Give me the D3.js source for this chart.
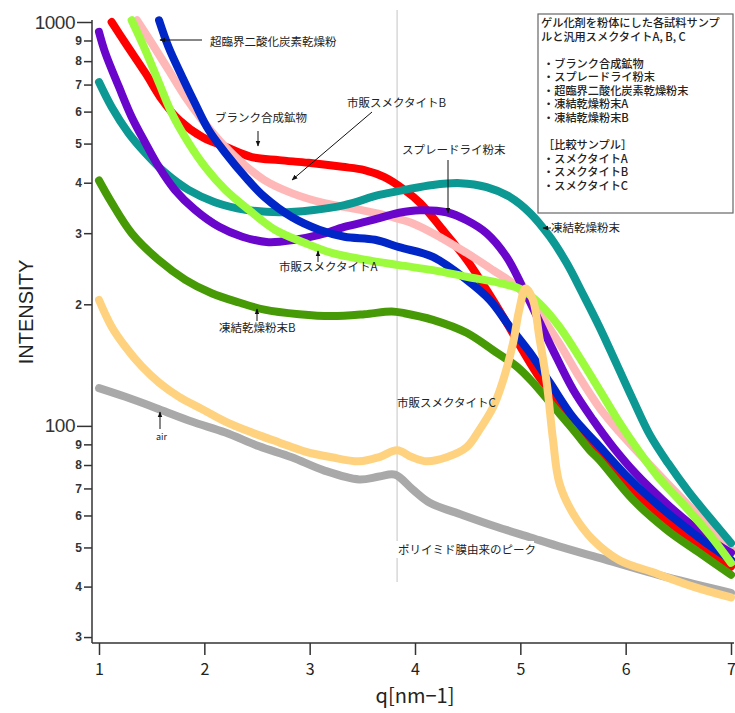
<!DOCTYPE html>
<html>
<head>
<meta charset="utf-8">
<script src="https://cdn.jsdelivr.net/npm/d3@7"></script>
<style>
  body { margin: 0; background: #fff; }
  svg { display: block; }
  .ann { font-family: "Noto Sans CJK JP", sans-serif; font-size: 11.5px; fill: #222; }
</style>
</head>
<body>
<script>
// [q (nm^-1), intensity]
const blankMineral = [[1.12, 1000], [1.25, 887], [1.44, 748], [1.6, 641], [1.76, 572], [1.98, 519], [2.2, 491], [2.45, 463], [2.71, 455], [2.99, 448], [3.31, 438], [3.52, 430], [3.71, 413], [3.9, 384], [4.05, 356], [4.24, 311], [4.49, 258], [4.68, 217], [4.87, 180], [5.02, 154], [5.18, 132], [5.35, 116], [5.5, 100.6], [5.72, 86.2], [6.0, 72.3], [6.25, 62.7], [6.5, 55.3], [6.75, 49.3], [7.0, 44.8]];
const sprayDried = [[1.0, 945], [1.06, 838], [1.19, 690], [1.31, 582], [1.44, 502], [1.57, 437], [1.72, 384], [1.91, 343], [2.14, 311], [2.36, 294], [2.61, 285], [2.86, 289], [3.09, 297], [3.33, 311], [3.59, 323], [3.85, 337], [4.05, 342], [4.3, 338], [4.49, 323], [4.68, 300], [4.87, 262], [5.02, 221], [5.16, 186], [5.31, 154], [5.5, 123], [5.69, 103.5], [5.88, 88.7], [6.1, 76], [6.35, 65.6], [6.6, 57.5], [6.85, 51.3], [7.0, 48.5]];
const supercritical = [[1.57, 1010], [1.66, 867], [1.79, 731], [1.91, 630], [2.04, 541], [2.2, 474], [2.39, 413], [2.57, 369], [2.83, 329], [3.09, 306], [3.33, 294], [3.62, 289], [3.85, 277], [4.17, 262], [4.49, 230], [4.71, 205], [4.9, 176], [5.09, 152], [5.28, 128], [5.5, 105], [5.72, 90.8], [6.0, 75.6], [6.25, 65.6], [6.5, 57.9], [6.75, 51.6], [7.0, 46.6]];
const freezeDriedA = [[1.0, 710], [1.12, 616], [1.28, 531], [1.44, 474], [1.63, 423], [1.85, 384], [2.1, 358], [2.39, 343], [2.71, 338], [3.02, 342], [3.33, 352], [3.66, 373], [3.9, 384], [4.17, 395], [4.43, 399], [4.68, 390], [4.9, 369], [5.09, 337], [5.28, 294], [5.44, 253], [5.59, 213], [5.75, 176], [5.91, 143], [6.07, 116], [6.23, 95], [6.4, 81], [6.6, 68.6], [6.8, 59.2], [7.0, 51.3]];
const freezeDriedB = [[1.0, 405], [1.12, 357], [1.31, 300], [1.57, 257], [1.82, 230], [2.07, 213], [2.33, 202], [2.57, 194], [2.9, 189], [3.21, 187], [3.52, 189], [3.78, 192], [3.9, 190], [4.17, 183], [4.49, 170], [4.74, 154], [4.97, 140], [5.12, 128], [5.31, 112], [5.5, 98], [5.66, 87], [5.75, 82.4], [6.07, 65.6], [6.39, 55.3], [6.7, 48.5], [7.0, 42.8]];
const smectiteA = [[1.31, 1010], [1.44, 852], [1.57, 706], [1.69, 595], [1.85, 502], [2.01, 437], [2.2, 384], [2.42, 343], [2.67, 306], [2.95, 284], [3.21, 268], [3.52, 258], [3.85, 250], [4.17, 243], [4.49, 234], [4.8, 226], [5.02, 217], [5.18, 201], [5.37, 176], [5.56, 148], [5.75, 123], [5.91, 105], [6.07, 90.8], [6.3, 75.2], [6.55, 63.8], [6.8, 53.7], [7.0, 45.8]];
const smectiteB = [[1.36, 1010], [1.5, 887], [1.66, 761], [1.82, 652], [1.98, 572], [2.14, 510], [2.33, 455], [2.57, 406], [2.83, 377], [3.14, 356], [3.47, 343], [3.78, 329], [3.97, 318], [4.17, 300], [4.49, 268], [4.74, 243], [4.97, 221], [5.18, 190], [5.37, 160], [5.56, 132], [5.75, 111], [5.94, 96.6], [6.07, 88.7], [6.39, 72.3], [6.7, 59.6], [7.0, 49.6]];
const smectiteC = [[1.0, 205], [1.12, 176], [1.25, 157], [1.41, 140], [1.57, 128], [1.76, 118], [1.98, 110], [2.2, 102.5], [2.45, 96.3], [2.71, 91], [2.95, 86.5], [3.21, 83.6], [3.47, 81.7], [3.66, 83.7], [3.83, 87], [3.97, 83.7], [4.11, 81.7], [4.3, 83.6], [4.49, 88.5], [4.61, 97.6], [4.74, 111], [4.83, 128], [4.93, 160], [4.99, 194], [5.05, 219], [5.12, 205], [5.18, 166], [5.25, 128], [5.31, 92.5], [5.37, 72.3], [5.5, 60.7], [5.69, 52.2], [5.94, 46.5], [6.26, 43.4], [6.64, 40.0], [7.0, 37.6]];
const air = [[1.0, 124], [1.25, 118], [1.57, 110], [1.88, 102.5], [2.2, 96.3], [2.52, 89], [2.83, 83.6], [3.14, 77.5], [3.47, 73.7], [3.66, 74.9], [3.81, 75.7], [3.98, 69.5], [4.14, 64.5], [4.45, 60.2], [4.78, 56.2], [5.09, 53.0], [5.4, 50.0], [5.75, 47.1], [6.39, 42.2], [7.0, 38.6]];

const polyimidePeakQ = 3.83;

const legendLines = [
  'ゲル化剤を粉体にした各試料サンプ',
  'ルと汎用スメクタイトA, B, C',
  '',
  '・ブランク合成鉱物',
  '・スプレードライ粉末',
  '・超臨界二酸化炭素乾燥粉末',
  '・凍結乾燥粉末A',
  '・凍結乾燥粉末B',
  '',
  '［比較サンプル］',
  '・スメクタイトA',
  '・スメクタイトB',
  '・スメクタイトC',
];

const yMajor = [100, 1000];
const yMinor = [30, 40, 50, 60, 70, 80, 90, 200, 300, 400, 500, 600, 700, 800, 900];
const xTicks = [1, 2, 3, 4, 5, 6, 7];

const W = 735;
const H = 713;
const axisX = 92;
const axisY = 643;

const x = d3.scaleLinear().domain([1, 7]).range([99, 731]);
const y = d3.scaleLog().domain([29, 1000]).range([axisY, 22]);

const svg = d3.select('body').append('svg')
  .attr('width', W)
  .attr('height', H);

svg.append('defs').append('clipPath').attr('id', 'plot')
  .append('rect')
  .attr('x', axisX + 1).attr('y', 14)
  .attr('width', W - axisX).attr('height', axisY - 14);

const arrow = svg.select('defs').append('marker')
  .attr('id', 'arrow')
  .attr('viewBox', '0 0 10 10')
  .attr('refX', 9).attr('refY', 5)
  .attr('markerWidth', 6).attr('markerHeight', 6)
  .attr('orient', 'auto-start-reverse');
arrow.append('path').attr('d', 'M0,1 L10,5 L0,9 z').attr('fill', '#111');

// polyimide reference line
svg.append('line')
  .attr('x1', x(polyimidePeakQ)).attr('x2', x(polyimidePeakQ))
  .attr('y1', 10).attr('y2', 582)
  .attr('stroke', '#c4c4c4')
  .attr('stroke-width', 1);

const series = [
  { data: blankMineral, color: '#ff0000' },
  { data: smectiteB, color: '#ffb8b8' },
  { data: freezeDriedA, color: '#0c9893' },
  { data: sprayDried, color: '#6a06cc' },
  { data: supercritical, color: '#0026c8' },
  { data: smectiteA, color: '#9cfb3c' },
  { data: freezeDriedB, color: '#469a05' },
  { data: air, color: '#a9a9a9' },
  { data: smectiteC, color: '#ffd27f' },
];

const line = d3.line()
  .x((d) => x(d[0]))
  .y((d) => y(d[1]))
  .curve(d3.curveCatmullRom.alpha(0.5));

svg.append('g')
  .attr('clip-path', 'url(#plot)')
  .selectAll('path')
  .data(series)
  .join('path')
  .attr('d', (d) => line(d.data))
  .attr('fill', 'none')
  .attr('stroke', (d) => d.color)
  .attr('stroke-width', 8)
  .attr('stroke-linecap', 'round')
  .attr('stroke-linejoin', 'round');

// axes
const yAxis = svg.append('g')
  .attr('transform', `translate(${axisX},0)`)
  .call(d3.axisLeft(y)
    .tickValues(yMinor.concat(yMajor))
    .tickSizeInner(8)
    .tickSizeOuter(0)
    .tickPadding(2)
    .tickFormat((v) => (yMajor.includes(v) ? String(v) : String(v / Math.pow(10, Math.floor(Math.log10(v)))))));
yAxis.select('.domain').remove();
yAxis.selectAll('.tick line').attr('stroke', '#333').attr('stroke-width', 1.5);
yAxis.selectAll('.tick text')
  .attr('fill', '#333')
  .style('font-family', '"Liberation Sans", Arial, sans-serif')
  .style('font-size', '12px')
  .style('font-weight', 'bold');
yAxis.selectAll('.tick')
  .filter((d) => yMajor.includes(d))
  .each(function () {
    d3.select(this).select('line').attr('x2', -15);
    d3.select(this).select('text')
      .attr('x', -17)
      .style('font-size', '19px')
      .style('font-weight', 'normal')
      .style('letter-spacing', '-0.5px');
  });
svg.append('line')
  .attr('x1', axisX).attr('x2', axisX)
  .attr('y1', 20).attr('y2', axisY)
  .attr('stroke', '#333').attr('stroke-width', 1.5);

const xAxis = svg.append('g')
  .attr('transform', `translate(0,${axisY})`)
  .call(d3.axisBottom(x)
    .tickValues(xTicks)
    .tickFormat(d3.format('d'))
    .tickSizeInner(12)
    .tickSizeOuter(0)
    .tickPadding(9));
xAxis.select('.domain').remove();
xAxis.selectAll('.tick line').attr('stroke', '#333').attr('stroke-width', 1.5);
xAxis.selectAll('.tick text')
  .attr('fill', '#222')
  .style('font-family', '"Noto Sans CJK JP", sans-serif')
  .style('font-size', '16px');
svg.append('line')
  .attr('x1', axisX).attr('x2', 734)
  .attr('y1', axisY).attr('y2', axisY)
  .attr('stroke', '#333').attr('stroke-width', 1.5);

svg.append('text')
  .attr('x', 415).attr('y', 703)
  .attr('text-anchor', 'middle')
  .attr('fill', '#222')
  .style('font-family', '"Noto Sans CJK JP", sans-serif')
  .style('font-size', '20px')
  .text('q[nm−1]');

svg.append('text')
  .attr('transform', 'translate(33,312) rotate(-90)')
  .attr('text-anchor', 'middle')
  .attr('fill', '#222')
  .style('font-family', '"Liberation Sans", Arial, sans-serif')
  .style('font-size', '20px')
  .text('INTENSITY');

// annotations
const notes = [
  { text: '超臨界二酸化炭素乾燥粉', x: 210, y: 46, a: [202, 40, 160, 40] },
  { text: 'ブランク合成鉱物', x: 215, y: 122, a: [258, 131, 258, 146] },
  { text: '市販スメクタイトB', x: 347, y: 107, a: [372, 112, 292, 180] },
  { text: 'スプレードライ粉末', x: 402, y: 154, a: [448, 160, 448, 213] },
  { text: '凍結乾燥粉末', x: 551, y: 232, a: [551, 228, 543, 228] },
  { text: '市販スメクタイトA', x: 279, y: 271, a: [318, 262, 318, 251] },
  { text: '凍結乾燥粉末B', x: 219, y: 332, a: [257, 321, 257, 309] },
  { text: '市販スメクタイトC', x: 397, y: 407 },
  { text: 'air', x: 156, y: 440, size: 9, a: [160, 429, 160, 412] },
  { text: 'ポリイミド膜由来のピーク', x: 398, y: 554, bg: true },
];

const ann = svg.append('g');
notes.forEach((n) => {
  if (n.bg) {
    ann.append('rect')
      .attr('x', n.x - 2).attr('y', n.y - 13)
      .attr('width', 138).attr('height', 17)
      .attr('fill', '#fff');
  }
  ann.append('text')
    .attr('class', 'ann')
    .attr('x', n.x).attr('y', n.y)
    .style('font-size', n.size ? `${n.size}px` : null)
    .text(n.text);
  if (n.a) {
    ann.append('line')
      .attr('x1', n.a[0]).attr('y1', n.a[1])
      .attr('x2', n.a[2]).attr('y2', n.a[3])
      .attr('stroke', '#111')
      .attr('stroke-width', 1)
      .attr('marker-end', 'url(#arrow)');
  }
});

// legend box
const legend = svg.append('g');
legend.append('rect')
  .attr('x', 538).attr('y', 14)
  .attr('width', 195).attr('height', 199)
  .attr('fill', '#fff')
  .attr('stroke', '#666')
  .attr('stroke-width', 1.2);
legend.selectAll('text')
  .data(legendLines)
  .join('text')
  .attr('class', 'ann')
  .attr('x', (d, i) => (i < 2 ? 541 : 543))
  .attr('y', (d, i) => 27 + i * 13.55)
  .style('font-size', '11.2px')
  .style('font-weight', 500)
  .text((d) => d);
</script>
</body>
</html>
